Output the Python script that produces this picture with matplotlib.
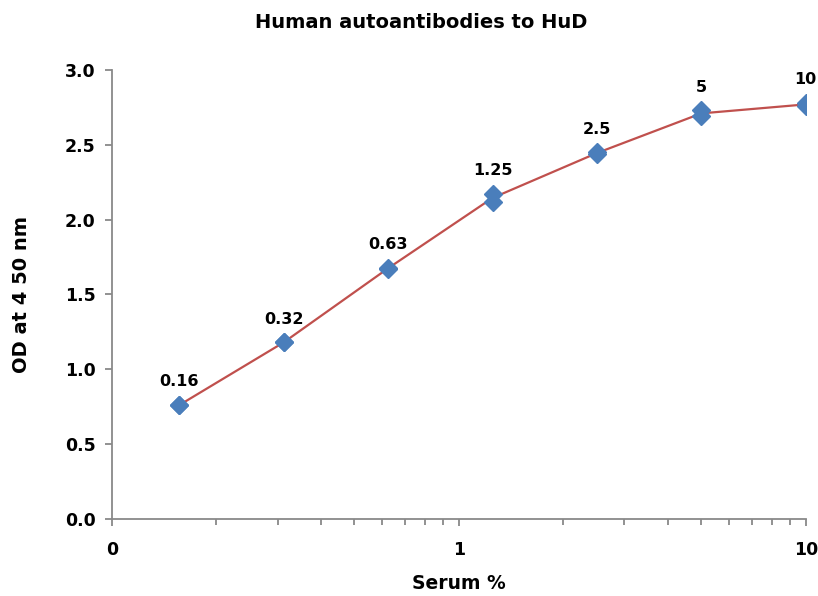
import matplotlib.pyplot as plt
import numpy as np
from matplotlib.ticker import FixedLocator, LogLocator, NullFormatter

# two-fold serum dilutions (%) and duplicate OD readings
serum = [0.156, 0.3125, 0.625, 1.25, 2.5, 5, 10]
serum_labels = ["0.16", "0.32", "0.63", "1.25", "2.5", "5", "10"]
od_rep1 = [0.76, 1.18, 1.67, 2.17, 2.45, 2.73, 2.78]
od_rep2 = [0.76, 1.18, 1.68, 2.12, 2.44, 2.69, 2.76]

xtick_vals = [0.1, 1, 10]
xtick_text = ["0", "1", "10"]

od_mean = (np.array(od_rep1) + np.array(od_rep2)) / 2

axis_grey = "#898989"
plt.rcParams["font.family"] = "DejaVu Sans"
plt.rcParams["font.weight"] = "bold"

fig = plt.figure(figsize=(8.18, 5.96), dpi=100)
ax = fig.add_axes([0.137, 0.1292, 0.848, 0.7534])

ax.plot(serum, od_mean, color="#c0504d", lw=1.6, zorder=2)
for reps in (od_rep1, od_rep2):
    ax.plot(serum, reps, linestyle="none", marker="D", ms=9,
            color="#4a7ebb", markeredgecolor="#4a7ebb", zorder=3)

# value labels above each pair of points
for x, y1, y2, txt in zip(serum, od_rep1, od_rep2, serum_labels):
    ax.annotate(txt, (x, max(y1, y2)), xytext=(0, 13.5), textcoords="offset points",
                ha="center", va="baseline", fontsize=11.5, fontweight="bold")

ax.set_xscale("log")
ax.set_xlim(0.1, 10)
ax.set_ylim(0, 3.0)
ax.xaxis.set_major_locator(FixedLocator(xtick_vals))
ax.set_xticklabels(xtick_text)
ax.xaxis.set_minor_locator(LogLocator(base=10, subs=np.arange(2, 10)))
ax.xaxis.set_minor_formatter(NullFormatter())
yticks = np.arange(0, 3.01, 0.5)
ax.set_yticks(yticks)
ax.set_yticklabels([f"{v:.1f}" for v in yticks])

for side in ("top", "right"):
    ax.spines[side].set_visible(False)
for side in ("left", "bottom"):
    ax.spines[side].set_color(axis_grey)
    ax.spines[side].set_linewidth(1.3)

ax.tick_params(axis="both", which="both", color=axis_grey, width=1.3, labelsize=12.5)
ax.tick_params(axis="y", which="major", length=5, pad=7)
ax.tick_params(axis="x", which="major", length=5, pad=11)
ax.tick_params(axis="x", which="minor", length=4)

ax.set_xlabel("Serum %", fontweight="bold", fontsize=13.5, labelpad=11)
ax.set_ylabel("OD at 4 50 nm", fontweight="bold", fontsize=14, labelpad=24)

fig.text(0.5155, 0.962, "Human autoantibodies to HuD", ha="center", va="center",
         fontsize=14, fontweight="bold")

fig.savefig("out.png", dpi=100)
